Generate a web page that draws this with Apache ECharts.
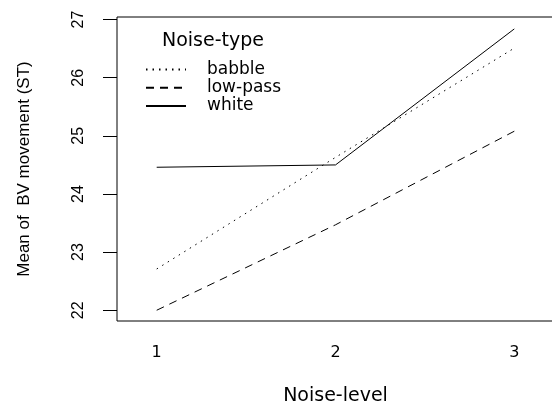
<!DOCTYPE html>
<html>
<head>
<meta charset="utf-8">
<script src="https://cdn.jsdelivr.net/npm/echarts@6/dist/echarts.min.js"></script>
<style>
html,body{margin:0;padding:0;background:#fff;}
#c{width:552px;height:401px;}
</style>
</head>
<body>
<div id="c"></div>
<script>
// Data
const noiseLevels = [1, 2, 3];
const seriesNames = ['babble', 'low-pass', 'white'];
const babble = [22.71, 24.63, 26.51];
const lowPass = [22.00, 23.47, 25.08];
const white = [24.46, 24.50, 26.84];
const yTicks = [22, 23, 24, 25, 26, 27];
const xTicks = [1, 2, 3];

const valuesByName = { 'babble': babble, 'low-pass': lowPass, 'white': white };
const dashByName = { 'babble': [1.5, 5], 'low-pass': [8, 6], 'white': 'solid' };

const chart = echarts.init(document.getElementById('c'));
chart.setOption({
  backgroundColor: '#fff',
  animation: false,
  title: {
    text: 'Noise-type',
    left: 162,
    top: 32,
    padding: 0,
    textStyle: { fontFamily: 'DejaVu Sans', fontSize: 19, fontWeight: 'normal', color: '#000' }
  },
  legend: {
    orient: 'vertical',
    left: 145,
    top: 61,
    padding: 0,
    itemWidth: 40,
    itemHeight: 14,
    itemGap: 1.2,
    data: seriesNames,
    itemStyle: { opacity: 0 },
    textStyle: { fontFamily: 'DejaVu Sans', fontSize: 17, color: '#000', padding: [0, 0, 0, 16] }
  },
  grid: {
    left: 117, top: 17, right: -2, bottom: 80,
    show: true, borderColor: '#000', borderWidth: 1,
    containLabel: false, outerBoundsMode: 'none'
  },
  xAxis: {
    type: 'value',
    min: 0.778, max: 3.222,
    name: 'Noise-level',
    nameLocation: 'middle',
    nameGap: 66,
    nameTextStyle: { fontFamily: 'DejaVu Sans', fontSize: 19, color: '#000' },
    axisLine: { show: false },
    axisTick: { show: false },
    splitLine: { show: false },
    axisLabel: {
      customValues: xTicks,
      margin: 24,
      fontFamily: 'DejaVu Sans', fontSize: 16, color: '#000'
    }
  },
  yAxis: {
    type: 'value',
    min: 21.815, max: 27.045,
    name: 'Mean of  BV movement (ST)',
    nameLocation: 'middle',
    nameRotate: 90,
    nameGap: 84,
    nameTextStyle: { fontFamily: 'Liberation Sans', fontSize: 17, color: '#000' },
    axisLine: { show: false },
    splitLine: { show: false },
    axisTick: { show: true, customValues: yTicks, length: 14, inside: false, lineStyle: { color: '#000', width: 1 } },
    axisLabel: {
      customValues: yTicks,
      rotate: 90,
      margin: 30,
      fontFamily: 'Liberation Sans', fontSize: 16, color: '#000'
    }
  },
  series: seriesNames.map(function (n) {
    return {
      name: n,
      type: 'line',
      symbol: 'none',
      data: noiseLevels.map(function (x, i) { return [x, valuesByName[n][i]]; }),
      lineStyle: { color: '#000', width: 1, type: dashByName[n] },
      itemStyle: { color: '#000' }
    };
  })
});
</script>
</body>
</html>
